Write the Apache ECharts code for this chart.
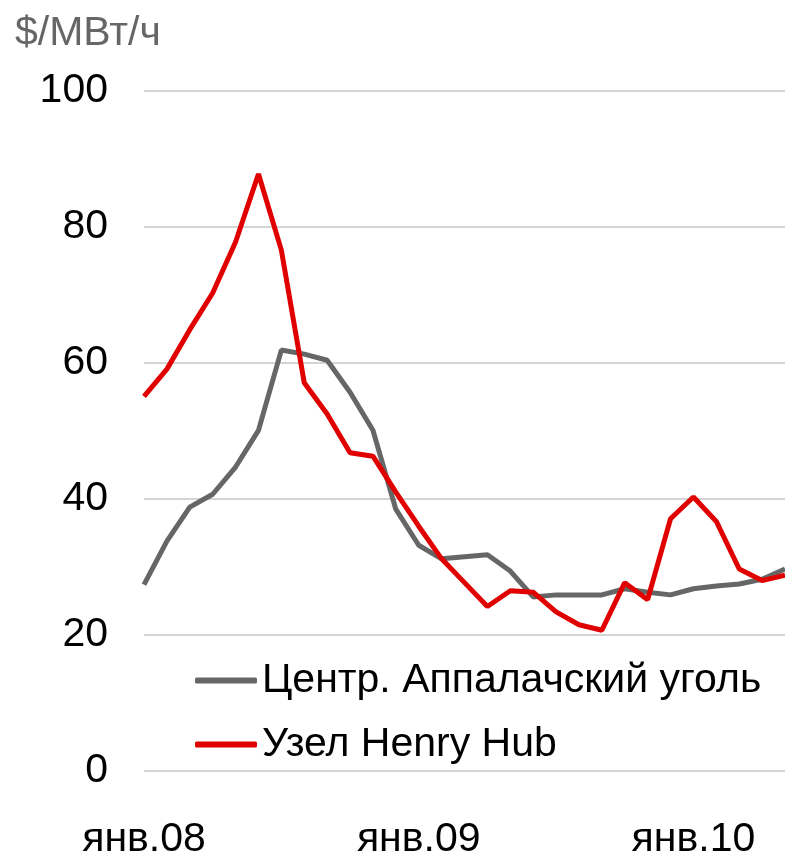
<!DOCTYPE html>
<html>
<head>
<meta charset="utf-8">
<style>
html,body{margin:0;padding:0;background:#fff;}
#chart{width:785px;height:860px;}
</style>
<script src="https://cdn.jsdelivr.net/npm/echarts@6/dist/echarts.min.js"></script>
</head>
<body>
<div id="chart"></div>
<script>
// месяцы, янв.08 - май.10
var months = ['янв.08','фев.08','мар.08','апр.08','май.08','июн.08','июл.08','авг.08','сен.08','окт.08','ноя.08','дек.08',
              'янв.09','фев.09','мар.09','апр.09','май.09','июн.09','июл.09','авг.09','сен.09','окт.09','ноя.09','дек.09',
              'янв.10','фев.10','мар.10','апр.10','май.10'];
var coal = [27.4, 33.8, 38.8, 40.7, 44.7, 50.1, 61.9, 61.3, 60.4, 55.7, 50.1, 38.5, 33.2, 31.2, 31.5,
            31.8, 29.4, 25.6, 25.9, 25.9, 25.9, 26.8, 26.3, 25.9, 26.8, 27.2, 27.5, 28.2, 29.7];
var henryHub = [55.1, 59.1, 64.9, 70.3, 77.8, 87.8, 76.6, 57.1, 52.5, 46.8, 46.3, 41.0, 36.0, 31.2, 27.7,
                24.2, 26.5, 26.3, 23.4, 21.5, 20.7, 27.7, 25.2, 37.1, 40.3, 36.7, 29.7, 28.0, 28.8];
var seriesNames = ['Центр. Аппалачский уголь', 'Узел Henry Hub'];

var font = '"Liberation Sans", Arial, sans-serif';
var chart = echarts.init(document.getElementById('chart'));
chart.setOption({
    animation: false,
    textStyle: { fontFamily: font },
    title: {
        text: '$/МВт/ч',
        left: 10,
        top: 8,
        textStyle: { fontSize: 41, fontWeight: 'normal', color: '#666666', fontFamily: font }
    },
    legend: {
        orient: 'vertical',
        left: 190,
        top: 655,
        itemWidth: 62,
        itemHeight: 6,
        itemGap: 23,
        icon: 'roundRect',
        data: seriesNames,
        textStyle: { fontSize: 41, lineHeight: 41, color: '#000', fontFamily: font }
    },
    grid: { left: 144, right: -5, top: 91, bottom: 83 },
    xAxis: {
        type: 'category',
        data: months,
        boundaryGap: false,
        axisLine: { show: false },
        axisTick: { show: false },
        axisLabel: { interval: 11, fontSize: 41, color: '#000', margin: 48, fontFamily: font }
    },
    yAxis: {
        type: 'value',
        min: 0,
        max: 100,
        interval: 20,
        axisLine: { show: false },
        axisTick: { show: false },
        axisLabel: { fontSize: 41, color: '#000', margin: 36, fontFamily: font },
        splitLine: { lineStyle: { color: '#d4d4d4', width: 2 } }
    },
    series: [
        {
            name: seriesNames[0],
            type: 'line',
            data: coal,
            symbol: 'none',
            lineStyle: { color: '#666666', width: 5 },
            itemStyle: { color: '#666666' }
        },
        {
            name: seriesNames[1],
            type: 'line',
            data: henryHub,
            symbol: 'none',
            lineStyle: { color: '#e00000', width: 5 },
            itemStyle: { color: '#e00000' }
        }
    ]
});
</script>
</body>
</html>
